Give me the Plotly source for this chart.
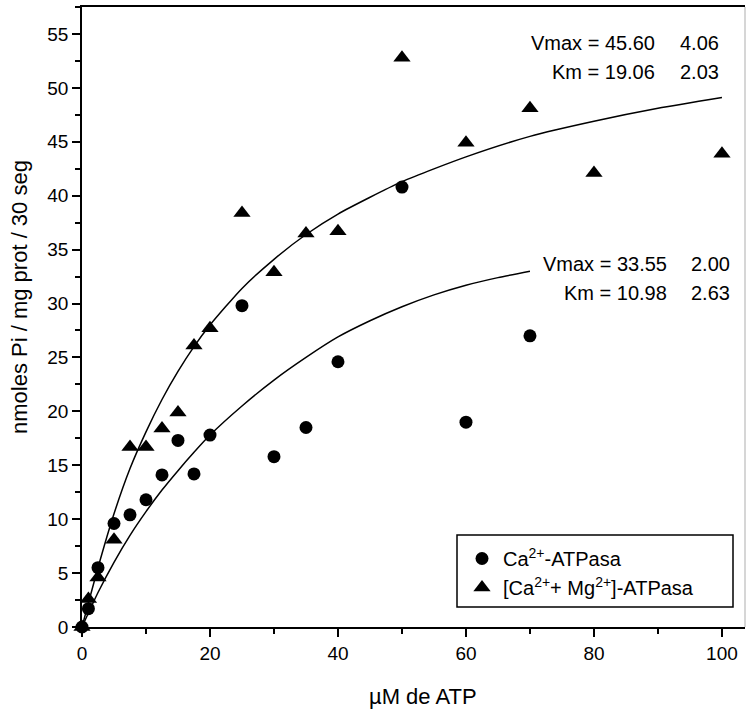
import plotly.graph_objects as go

# ---- data ----
ca_x = [0, 1, 2.5, 5, 7.5, 10, 12.5, 15, 17.5, 20, 25, 30, 35, 40, 50, 60, 70]
ca_y = [0, 1.7, 5.5, 9.6, 10.4, 11.8, 14.1, 17.3, 14.2, 17.8, 29.8, 15.8, 18.5, 24.6, 40.8, 19.0, 27.0]

camg_x = [0, 1, 2.5, 5, 7.5, 10, 12.5, 15, 17.5, 20, 25, 30, 35, 40, 50, 60, 70, 80, 100]
camg_y = [0, 2.6, 4.6, 8.1, 16.7, 16.7, 18.4, 19.9, 26.1, 27.7, 38.4, 32.9, 36.5, 36.7, 52.8, 44.9, 48.1, 42.1, 43.9]

fit_camg_x = [0, 2.5, 5, 7.5, 10, 12.5, 15, 17.5, 20, 25, 30, 35, 40, 50, 60, 70, 80, 90, 100]
fit_camg_y = [0, 5.5, 10.5, 14.7, 18.1, 21.1, 23.7, 26.0, 28.0, 31.4, 34.1, 36.4, 38.3, 41.3, 43.6, 45.5, 46.9, 48.1, 49.1]

fit_ca_x = [0, 2.5, 5, 7.5, 10, 12.5, 15, 17.5, 20, 25, 30, 35, 40, 45, 50, 55, 60, 65, 70]
fit_ca_y = [0, 3.2, 6.0, 8.5, 10.7, 12.7, 14.5, 16.2, 17.8, 20.5, 22.9, 25.0, 26.9, 28.4, 29.7, 30.8, 31.7, 32.4, 33.0]

x_ticks = [0, 20, 40, 60, 80, 100]
y_ticks = [0, 5, 10, 15, 20, 25, 30, 35, 40, 45, 50, 55]

camg_params = ["Vmax = 45.60", "4.06", "Km = 19.06", "2.03"]
ca_params = ["Vmax = 33.55", "2.00", "Km = 10.98", "2.63"]

series_names = ["Ca<sup>2+</sup>-ATPasa", "[Ca<sup>2+</sup>+ Mg<sup>2+</sup>]-ATPasa"]

FONT = "Liberation Sans, Arial, sans-serif"

fig = go.Figure()

fig.add_trace(go.Scatter(x=fit_camg_x, y=fit_camg_y, mode="lines",
                         line=dict(color="black", width=1.5, shape="spline", smoothing=0.6),
                         showlegend=False, hoverinfo="skip"))
fig.add_trace(go.Scatter(x=fit_ca_x, y=fit_ca_y, mode="lines",
                         line=dict(color="black", width=1.5, shape="spline", smoothing=0.6),
                         showlegend=False, hoverinfo="skip"))

fig.add_trace(go.Scatter(x=ca_x, y=ca_y, mode="markers", name=series_names[0],
                         marker=dict(symbol="circle", size=13, color="black"),
                         cliponaxis=False))
fig.add_trace(go.Scatter(x=camg_x, y=camg_y, mode="markers", name=series_names[1],
                         marker=dict(symbol="triangle-up", size=15, color="black"),
                         cliponaxis=False))

axis_common = dict(
    showline=True, linecolor="black", linewidth=1.5,
    showgrid=False, zeroline=False,
    ticks="outside", ticklen=8, tickwidth=1.5, tickcolor="black",
    tickfont=dict(family=FONT, size=19, color="black"),
)

fig.update_xaxes(range=[0, 103.6], tickvals=x_ticks, mirror=True,
                 minor=dict(ticks="outside", dtick=10, tick0=0, ticklen=5, tickwidth=1.5, tickcolor="black"),
                 **axis_common)
fig.update_yaxes(range=[0, 57.5], tickvals=y_ticks, mirror=False,
                 minor=dict(ticks="outside", dtick=2.5, tick0=0, ticklen=5, tickwidth=1.5, tickcolor="black"),
                 **axis_common)

ann_font = dict(family=FONT, size=20, color="black")
annotations = []
for (txt, xx, yy) in [(camg_params[0], 89.9, 54.2), (camg_params[1], 99.9, 54.2),
                      (camg_params[2], 89.9, 51.5), (camg_params[3], 99.9, 51.5),
                      (ca_params[0], 91.8, 33.66), (ca_params[1], 101.5, 33.66),
                      (ca_params[2], 91.8, 30.97), (ca_params[3], 101.5, 30.97)]:
    annotations.append(dict(x=xx, y=yy, xref="x", yref="y", text=txt, showarrow=False,
                            xanchor="right", yanchor="middle", font=ann_font))

# axis titles
annotations.append(dict(x=(423 - 82) / 663, y=-(697 - 627) / 620, xref="paper", yref="paper",
                        text="\u00b5M de ATP", showarrow=False, xanchor="center", yanchor="middle",
                        font=dict(family=FONT, size=22, color="black")))
annotations.append(dict(x=-(82 - 19) / 663, y=(627 - 297) / 620, xref="paper", yref="paper",
                        text="nmoles Pi / mg prot / 30 seg", showarrow=False, textangle=-90,
                        xanchor="center", yanchor="middle",
                        font=dict(family=FONT, size=22, color="black")))

shapes = [
    # faint right frame line
    dict(type="line", xref="paper", yref="paper", x0=1, x1=1, y0=0, y1=1,
         line=dict(color="#c8c8c8", width=1.5)),
    # legend frame
    dict(type="rect", xref="paper", yref="paper",
         x0=(457 - 82) / 663, x1=(733 - 82) / 663, y0=(627 - 607) / 620, y1=(627 - 535) / 620,
         line=dict(color="black", width=1.5), fillcolor="white", layer="above"),
]

fig.update_layout(
    width=747, height=713,
    margin=dict(l=82, r=2, t=7, b=86),
    paper_bgcolor="white", plot_bgcolor="white",
    font=dict(family=FONT, color="black"),
    annotations=annotations,
    shapes=shapes,
    legend=dict(x=(461 - 82) / 663, y=(627 - 539) / 620, xanchor="left", yanchor="top",
                bgcolor="rgba(0,0,0,0)", borderwidth=0,
                font=dict(family=FONT, size=20, color="black"),
                itemwidth=32, tracegroupgap=0),
)

fig.write_html("out.html")
